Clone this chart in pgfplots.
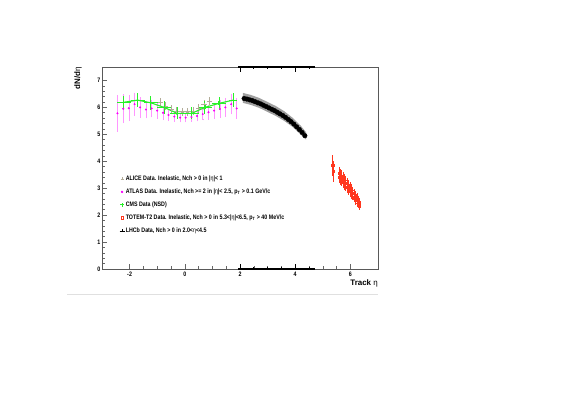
\documentclass[border=0pt]{standalone}
\usepackage{fontspec}
\setmainfont{Liberation Sans}
\newfontfamily\rootfont[FakeStretch=0.82]{Liberation Sans}
\usepackage{pgfplots}
\pgfplotsset{compat=1.18}

\definecolor{alicegrey}{RGB}{178,172,152}
\definecolor{atlasmag}{RGB}{250,0,250}
\definecolor{atlaspink}{RGB}{255,150,255}
\definecolor{cmsgreen}{RGB}{40,240,40}
\definecolor{totemred}{RGB}{255,55,30}
\definecolor{lhcbband}{RGB}{160,160,160}

\begin{document}
\begin{tikzpicture}
\useasboundingbox (0,0) rectangle (588bp,415bp);
% thin rule under the plot
\draw[black!12, line width=0.8bp] (67bp,121bp) -- (378bp,121bp);
\begin{axis}[
    at={(102bp,146bp)}, anchor=south west,
    scale only axis, width=276bp, height=202bp,
    xmin=-3, xmax=7, ymin=0, ymax=7.5,
    clip=false,
    axis line style={black!65, line width=0.6bp},
    xtick={-2,0,2,4,6}, xticklabels={-2,0,2,4,6},
    ytick={0,1,2,3,4,5,6,7}, yticklabels={0,1,2,3,4,5,6,7},
    minor x tick num=3, minor y tick num=4,
    xtick pos=bottom, ytick pos=left, tick align=inside,
    major tick length=5bp, minor tick length=2.5bp,
    tick style={black!60, line width=0.6bp},
    ticklabel style={font=\rootfont\bfseries\fontsize{6.5}{7}\selectfont},
    xticklabel style={inner sep=1bp, yshift=-2bp},
    yticklabel style={inner sep=1.5bp},
    xlabel={Track \textmd{η}},
    xlabel style={at={(rel axis cs:1,-0.05)}, anchor=north east, inner sep=0pt,
        font=\bfseries\fontsize{8}{9}\selectfont},
    ylabel={dN/d\textmd{η}},
    ylabel style={at={(rel axis cs:-0.087,1)}, anchor=east, inner sep=0pt,
        font=\bfseries\fontsize{8}{9}\selectfont},
    legend style={at={(0.062,0.468)}, anchor=north west, draw=none, fill=none,
        font=\rootfont\bfseries\fontsize{6.5}{7}\selectfont,
        inner sep=0pt, row sep=4.5bp,
        nodes={inner sep=1bp, text height=5bp, text depth=1.5bp},
        legend cell align=left},
    legend image code/.code={\draw[mark repeat=2,mark phase=2,#1]
        plot coordinates {(0bp,0bp) (2.5bp,0bp) (5bp,0bp)};},
]

% legend entries, in the order of the reference
\addlegendimage{only marks, mark=+, mark size=1.5bp, alicegrey}
\addlegendentry{ALICE Data. Inelastic, Nch > 0 in |\textmd{η}|< 1}
\addlegendimage{only marks, mark=*, mark size=1bp, atlasmag}
\addlegendentry{ATLAS Data. Inelastic, Nch >= 2 in  |\textmd{η}|< 2.5, p\textsubscript{T} > 0.1 GeV/c}
\addlegendimage{only marks, mark=+, mark size=1.8bp, cmsgreen, line width=0.9bp}
\addlegendentry{CMS Data (NSD)}
\addlegendimage{only marks, mark=square, mark size=1.3bp, totemred}
\addlegendentry{TOTEM-T2 Data. Inelastic, Nch > 0 in 5.3<|\textmd{η}|<6.5, p\textsubscript{T} > 40 MeV/c}
\addlegendimage{mark=+, mark size=1.5bp, black, line width=0.5bp}
\addlegendentry{LHCb Data, Nch > 0 in 2.0<\textmd{η}<4.5}

% ALICE
\addplot[forget plot, only marks, mark=+, mark size=1.5bp, alicegrey,
    error bars/.cd, x dir=both, x explicit, y dir=both, y explicit,
    error mark=none, error bar style={alicegrey, line width=0.5bp}]
coordinates {
(-0.9,6.20) +- (0.1,0.15)
(-0.7,6.05) +- (0.1,0.15)
(-0.5,5.93) +- (0.1,0.15)
(-0.3,5.86) +- (0.1,0.15)
(-0.1,5.84) +- (0.1,0.15)
(0.1,5.84) +- (0.1,0.15)
(0.3,5.87) +- (0.1,0.15)
(0.5,5.96) +- (0.1,0.15)
(0.7,6.12) +- (0.1,0.15)
(0.9,6.24) +- (0.1,0.15)
};

% ATLAS
\addplot[forget plot, only marks, mark=*, mark size=0.8bp, atlasmag,
    error bars/.cd, y dir=both, y explicit,
    error mark options={atlaspink, mark size=0.8bp},
    error bar style={atlaspink, line width=0.5bp}]
coordinates {
(-2.44,5.78) +- (0,0.65)
(-2.23,5.95) +- (0,0.50)
(-2.03,5.97) +- (0,0.45)
(-1.82,6.12) +- (0,0.40)
(-1.62,6.00) +- (0,0.35)
(-1.41,5.92) +- (0,0.30)
(-1.20,5.96) +- (0,0.30)
(-1.00,5.88) +- (0,0.27)
(-0.79,5.80) +- (0,0.24)
(-0.59,5.72) +- (0,0.20)
(-0.38,5.66) +- (0,0.17)
(-0.17,5.62) +- (0,0.15)
(0.03,5.62) +- (0,0.15)
(0.24,5.64) +- (0,0.15)
(0.44,5.68) +- (0,0.17)
(0.65,5.75) +- (0,0.20)
(0.86,5.82) +- (0,0.24)
(1.06,5.88) +- (0,0.27)
(1.27,5.94) +- (0,0.30)
(1.47,6.00) +- (0,0.32)
(1.68,6.12) +- (0,0.35)
(1.88,5.96) +- (0,0.35)
};

% CMS
\addplot[forget plot, cmsgreen, line width=1.1bp, mark=+, mark size=2bp,
    error bars/.cd, x dir=both, x explicit, y dir=both, y explicit,
    error mark=none, error bar style={cmsgreen, line width=1bp}]
coordinates {
(-2.21,6.19) +- (0.25,0.25)
(-1.71,6.27) +- (0.25,0.25)
(-1.23,6.17) +- (0.25,0.25)
(-0.75,6.00) +- (0.25,0.25)
(-0.27,5.78) +- (0.25,0.22)
(0.25,5.78) +- (0.25,0.22)
(0.73,6.00) +- (0.25,0.25)
(1.24,6.15) +- (0.25,0.25)
(1.75,6.27) +- (0.15,0.25)
};

% LHCb systematic band
\addplot[forget plot, fill=lhcbband, draw=none] coordinates {
(2.10,6.54) (2.40,6.46) (2.70,6.35) (3.00,6.20) (3.30,6.05)
(3.60,5.86) (3.90,5.62) (4.20,5.32) (4.40,5.07)
(4.40,4.80) (4.20,4.99) (3.90,5.28) (3.60,5.50) (3.30,5.68)
(3.00,5.83) (2.70,5.98) (2.40,6.09) (2.10,6.17)
} -- cycle;

% LHCb
\addplot[forget plot, only marks, mark=*, mark size=2.3bp, black]
coordinates {
(2.15,6.33) (2.25,6.31) (2.35,6.28) (2.45,6.25) (2.55,6.21)
(2.65,6.17) (2.75,6.13) (2.85,6.08) (2.95,6.03) (3.05,5.98)
(3.15,5.93) (3.25,5.88) (3.35,5.82) (3.45,5.76) (3.55,5.70)
(3.65,5.63) (3.75,5.55) (3.85,5.47) (3.95,5.38) (4.05,5.28)
(4.15,5.18) (4.25,5.07) (4.35,4.95)
};

% TOTEM-T2
\addplot[forget plot, only marks, mark=square, mark size=1.1bp, totemred,
    error bars/.cd, y dir=both, y explicit, error mark=none,
    error bar style={totemred, line width=0.5bp}]
coordinates {
(5.36,3.85) +- (0,0.38)
(5.39,3.62) +- (0,0.38)
(5.58,3.55) +- (0,0.22) (5.58,3.40) +- (0,0.22)
(5.63,3.50) +- (0,0.22) (5.63,3.35) +- (0,0.22)
(5.68,3.45) +- (0,0.22) (5.68,3.30) +- (0,0.22)
(5.73,3.38) +- (0,0.22) (5.73,3.23) +- (0,0.22)
(5.78,3.32) +- (0,0.22) (5.78,3.17) +- (0,0.22)
(5.83,3.25) +- (0,0.22) (5.83,3.10) +- (0,0.22)
(5.88,3.18) +- (0,0.20) (5.88,3.03) +- (0,0.20)
(5.93,3.10) +- (0,0.20) (5.93,2.95) +- (0,0.20)
(5.98,3.03) +- (0,0.20) (5.98,2.88) +- (0,0.20)
(6.03,2.95) +- (0,0.20) (6.03,2.80) +- (0,0.20)
(6.08,2.88) +- (0,0.18) (6.08,2.73) +- (0,0.18)
(6.13,2.80) +- (0,0.18) (6.13,2.65) +- (0,0.18)
(6.18,2.72) +- (0,0.18) (6.18,2.57) +- (0,0.18)
(6.23,2.64) +- (0,0.18) (6.23,2.49) +- (0,0.18)
(6.28,2.56) +- (0,0.16) (6.28,2.41) +- (0,0.16)
(6.33,2.48) +- (0,0.16) (6.33,2.35) +- (0,0.16)
};

% overlaid LHCb frame pieces (top and bottom)
\draw[black, line width=1.6bp] (axis cs:1.92,7.5) -- (axis cs:4.72,7.5);
\draw[black, line width=1.6bp] (axis cs:1.92,0) -- (axis cs:4.72,0);
\pgfplotsinvokeforeach{2,4}{
  \draw[black, line width=0.9bp] (axis cs:#1,7.5) -- (axis cs:#1,7.31);
  \draw[black, line width=0.9bp] (axis cs:#1,0) -- (axis cs:#1,0.19);
}
\pgfplotsinvokeforeach{2.5,3,3.5,4.5}{
  \draw[black, line width=0.9bp] (axis cs:#1,7.5) -- (axis cs:#1,7.41);
  \draw[black, line width=0.9bp] (axis cs:#1,0) -- (axis cs:#1,0.09);
}
\end{axis}
\end{tikzpicture}
\end{document}
